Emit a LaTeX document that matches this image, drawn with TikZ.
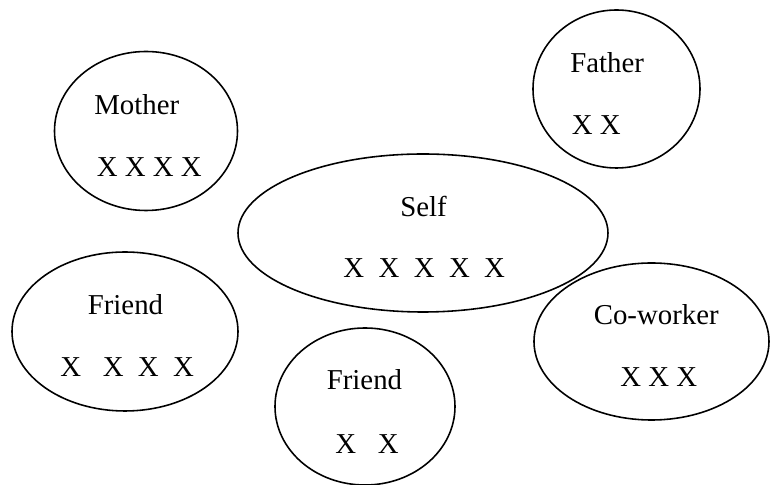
\documentclass[tikz,border=0pt]{standalone}
\usepackage{fontspec}
\setmainfont{Liberation Serif}
\usetikzlibrary{shapes.geometric}

\begin{document}
\begin{tikzpicture}[
                bubble/.style={draw, ellipse, line width=0.9pt, inner sep=0pt},
                txt/.style={anchor=base west, inner sep=0pt, font=\fontsize{16.4}{19}\selectfont}
            ]
                \useasboundingbox (0,0) rectangle (15.4,9.7);

                % Top row: Mother and Father
                \node[bubble, minimum width=3.66cm, minimum height=3.18cm] (mother) at (2.92,7.08) {};
                \node[txt] (mothername) at (1.88,7.40) {Mother};
                \node[txt] (mothermarks) at (1.93,6.17) {X X X X};

                \node[bubble, minimum width=3.34cm, minimum height=3.16cm] (father) at (12.33,7.92) {};
                \node[txt] (fathername) at (11.40,8.25) {Father};
                \node[txt] (fathermarks) at (11.43,7.00) {X X};

                % Middle: Self
                \node[bubble, minimum width=7.40cm, minimum height=3.16cm] (self) at (8.46,5.04) {};
                \node[txt] (selfname) at (8.00,5.37) {Self};
                \node[txt] (selfmarks) at (6.86,4.14) {X~~X~~X~~X~~X};

                % Bottom row: Friend, Friend and Co-worker
                \node[bubble, minimum width=4.52cm, minimum height=3.18cm] (friendl) at (2.50,3.07) {};
                \node[txt] (friendlname) at (1.75,3.40) {Friend};
                \node[txt] (friendlmarks) at (1.20,2.17) {X~~~X~~X~~X};

                \node[bubble, minimum width=3.60cm, minimum height=3.14cm] (friendb) at (7.30,1.57) {};
                \node[txt] (friendbname) at (6.53,1.90) {Friend};
                \node[txt] (friendbmarks) at (6.70,0.63) {X~~~X};

                \node[bubble, minimum width=4.70cm, minimum height=3.14cm] (coworker) at (13.03,2.87) {};
                \node[txt] (coworkername) at (11.87,3.20) {Co-worker};
                \node[txt] (coworkermarks) at (12.40,1.97) {X X X};
            \end{tikzpicture}
\end{document}
